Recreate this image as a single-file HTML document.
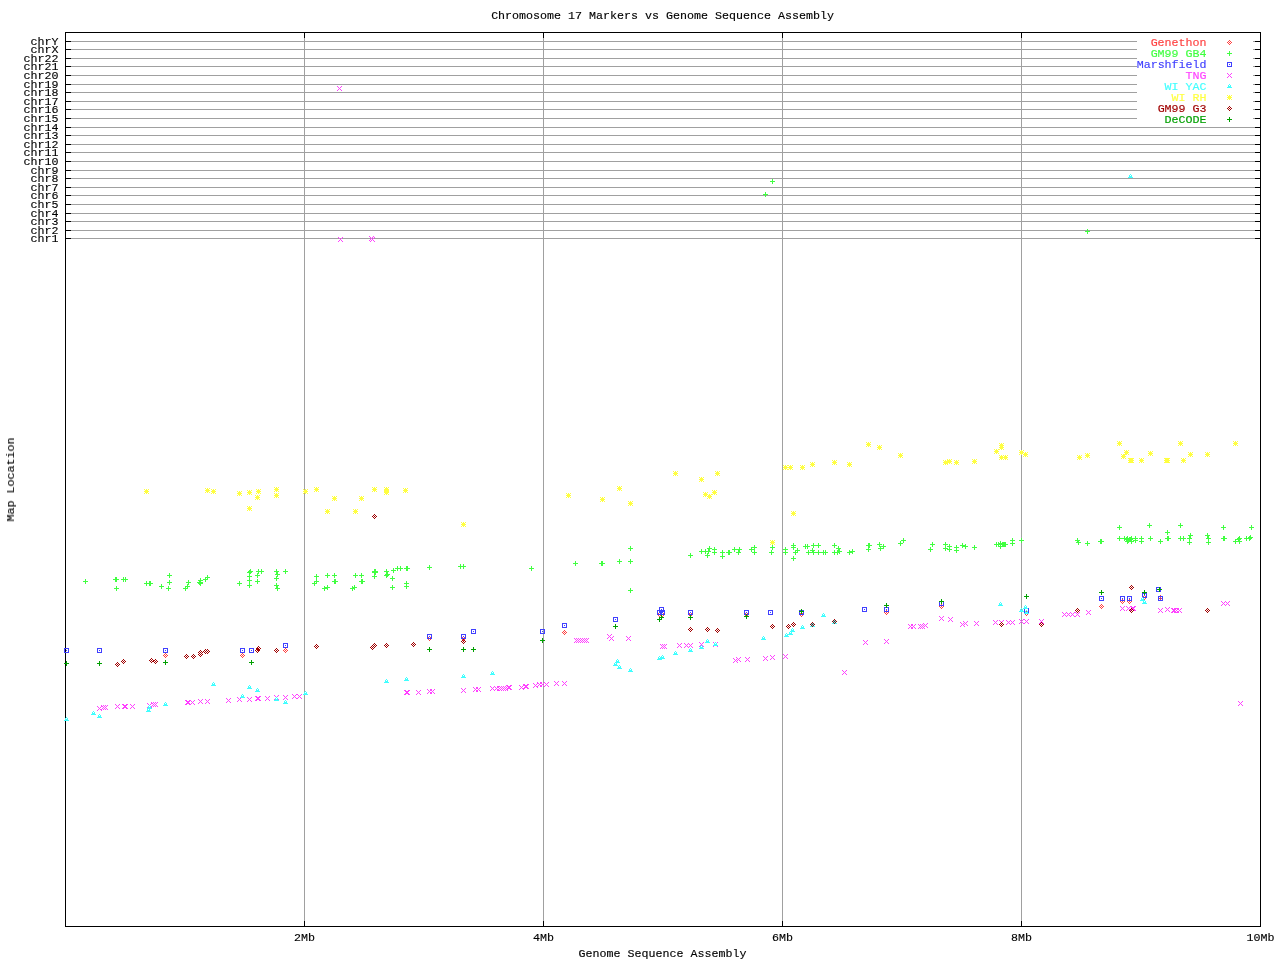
<!DOCTYPE html>
<html lang="en"><head><meta charset="utf-8"><title>Chromosome 17 Markers vs Genome Sequence Assembly</title>
<style>html,body{margin:0;padding:0;background:#fff;overflow:hidden}svg{display:block}text{font-family:"Liberation Mono","DejaVu Sans Mono",monospace;font-size:11.66px;fill:#000;stroke:#000;stroke-width:.15px;white-space:pre}.g{stroke:#a0a0a0;stroke-width:1;shape-rendering:crispEdges;fill:none}.k{stroke:#000;stroke-width:1;shape-rendering:crispEdges;fill:none}.p{shape-rendering:crispEdges}.t{opacity:.999}</style></head><body>
<svg width="1280" height="960" viewBox="0 0 1280 960">
<rect width="1280" height="960" fill="#fff"/>
<defs>
<path id="dia" d="M0 -2h1v1h-1zM-1 -1h1v1h-1zM1 -1h1v1h-1zM-2 0h1v1h-1zM0 0h1v1h-1zM2 0h1v1h-1zM-1 1h1v1h-1zM1 1h1v1h-1zM0 2h1v1h-1z"/>
<path id="plus" d="M0 -2h1v1h-1zM0 -1h1v1h-1zM-2 0h5v1h-5zM0 1h1v1h-1zM0 2h1v1h-1z"/>
<path id="box" d="M-2 -2h5v1h-5zM-2 -1h1v1h-1zM2 -1h1v1h-1zM-2 0h1v1h-1zM0 0h1v1h-1zM2 0h1v1h-1zM-2 1h1v1h-1zM2 1h1v1h-1zM-2 2h5v1h-5z"/>
<path id="x" d="M-2 -2h1v1h-1zM2 -2h1v1h-1zM-1 -1h1v1h-1zM1 -1h1v1h-1zM0 0h1v1h-1zM-1 1h1v1h-1zM1 1h1v1h-1zM-2 2h1v1h-1zM2 2h1v1h-1z"/>
<path id="tri" d="M0 -2h1v1h-1zM-1 -1h1v1h-1zM1 -1h1v1h-1zM-1 0h3v1h-3zM-2 1h5v1h-5z"/>
<path id="star" d="M-2 -2h1v1h-1zM0 -2h1v1h-1zM2 -2h1v1h-1zM-1 -1h3v1h-3zM-2 0h5v1h-5zM-1 1h3v1h-3zM-2 2h1v1h-1zM0 2h1v1h-1zM2 2h1v1h-1z"/>
</defs>
<path class="g" d="M66 41.5H1260M66 49.5H1260M66 58.5H1260M66 66.5H1260M66 75.5H1260M66 84.5H1260M66 92.5H1260M66 101.5H1260M66 109.5H1260M66 118.5H1260M66 127.5H1260M66 135.5H1260M66 144.5H1260M66 152.5H1260M66 161.5H1260M66 170.5H1260M66 178.5H1260M66 187.5H1260M66 195.5H1260M66 204.5H1260M66 213.5H1260M66 221.5H1260M66 230.5H1260M66 238.5H1260M304.5 33V926M543.5 33V926M782.5 33V926M1021.5 33V926"/>
<rect x="1137" y="36" width="116" height="89" fill="#fff"/>
<path class="k" d="M65.5 32.5H1260.5V926.5H65.5ZM65 41.5h6M1261 41.5h-6M65 49.5h6M1261 49.5h-6M65 58.5h6M1261 58.5h-6M65 66.5h6M1261 66.5h-6M65 75.5h6M1261 75.5h-6M65 84.5h6M1261 84.5h-6M65 92.5h6M1261 92.5h-6M65 101.5h6M1261 101.5h-6M65 109.5h6M1261 109.5h-6M65 118.5h6M1261 118.5h-6M65 127.5h6M1261 127.5h-6M65 135.5h6M1261 135.5h-6M65 144.5h6M1261 144.5h-6M65 152.5h6M1261 152.5h-6M65 161.5h6M1261 161.5h-6M65 170.5h6M1261 170.5h-6M65 178.5h6M1261 178.5h-6M65 187.5h6M1261 187.5h-6M65 195.5h6M1261 195.5h-6M65 204.5h6M1261 204.5h-6M65 213.5h6M1261 213.5h-6M65 221.5h6M1261 221.5h-6M65 230.5h6M1261 230.5h-6M65 238.5h6M1261 238.5h-6M304.5 32v6M304.5 927v-6M543.5 32v6M543.5 927v-6M782.5 32v6M782.5 927v-6M1021.5 32v6M1021.5 927v-6"/>
<g class="t">
<text x="58.4" y="45" text-anchor="end">chrY</text>
<text x="58.4" y="53" text-anchor="end">chrX</text>
<text x="58.4" y="62" text-anchor="end">chr22</text>
<text x="58.4" y="70" text-anchor="end">chr21</text>
<text x="58.4" y="79" text-anchor="end">chr20</text>
<text x="58.4" y="88" text-anchor="end">chr19</text>
<text x="58.4" y="96" text-anchor="end">chr18</text>
<text x="58.4" y="105" text-anchor="end">chr17</text>
<text x="58.4" y="113" text-anchor="end">chr16</text>
<text x="58.4" y="122" text-anchor="end">chr15</text>
<text x="58.4" y="131" text-anchor="end">chr14</text>
<text x="58.4" y="139" text-anchor="end">chr13</text>
<text x="58.4" y="148" text-anchor="end">chr12</text>
<text x="58.4" y="156" text-anchor="end">chr11</text>
<text x="58.4" y="165" text-anchor="end">chr10</text>
<text x="58.4" y="174" text-anchor="end">chr9</text>
<text x="58.4" y="182" text-anchor="end">chr8</text>
<text x="58.4" y="191" text-anchor="end">chr7</text>
<text x="58.4" y="199" text-anchor="end">chr6</text>
<text x="58.4" y="208" text-anchor="end">chr5</text>
<text x="58.4" y="217" text-anchor="end">chr4</text>
<text x="58.4" y="225" text-anchor="end">chr3</text>
<text x="58.4" y="234" text-anchor="end">chr2</text>
<text x="58.4" y="242" text-anchor="end">chr1</text>
<text x="304.5" y="941" text-anchor="middle">2Mb</text>
<text x="543.5" y="941" text-anchor="middle">4Mb</text>
<text x="782.5" y="941" text-anchor="middle">6Mb</text>
<text x="1021.5" y="941" text-anchor="middle">8Mb</text>
<text x="1260.5" y="941" text-anchor="middle">10Mb</text>
<text x="662.5" y="19" text-anchor="middle">Chromosome 17 Markers vs Genome Sequence Assembly</text>
<text x="662.5" y="957" text-anchor="middle">Genome Sequence Assembly</text>
<text transform="translate(14 479.5) rotate(-90)" text-anchor="middle">Map Location</text>
</g>
<text x="1206.6" y="46" text-anchor="end" style="fill:#ff4040;stroke:#ff4040">Genethon</text>
<use href="#dia" class="p" x="1229" y="42" fill="#ff4040"/>
<text x="1206.6" y="57" text-anchor="end" style="fill:#40ff40;stroke:#40ff40">GM99 GB4</text>
<use href="#plus" class="p" x="1229" y="53" fill="#40ff40"/>
<text x="1206.6" y="68" text-anchor="end" style="fill:#4040ff;stroke:#4040ff">Marshfield</text>
<use href="#box" class="p" x="1229" y="64" fill="#4040ff"/>
<text x="1206.6" y="79" text-anchor="end" style="fill:#ff40ff;stroke:#ff40ff">TNG</text>
<use href="#x" class="p" x="1229" y="75" fill="#ff40ff"/>
<text x="1206.6" y="90" text-anchor="end" style="fill:#40ffff;stroke:#40ffff">WI YAC</text>
<use href="#tri" class="p" x="1229" y="86" fill="#40ffff"/>
<text x="1206.6" y="101" text-anchor="end" style="fill:#ffff40;stroke:#ffff40">WI RH</text>
<use href="#star" class="p" x="1229" y="97" fill="#ffff40"/>
<text x="1206.6" y="112" text-anchor="end" style="fill:#a00000;stroke:#a00000">GM99 G3</text>
<use href="#dia" class="p" x="1229" y="108" fill="#a00000"/>
<text x="1206.6" y="123" text-anchor="end" style="fill:#00a000;stroke:#00a000">DeCODE</text>
<use href="#plus" class="p" x="1229" y="119" fill="#00a000"/>
<g class="p" fill="#ff4040">
<use href="#dia" x="165" y="655"/><use href="#dia" x="242" y="655"/><use href="#dia" x="285" y="650"/><use href="#dia" x="429" y="638"/><use href="#dia" x="463" y="638"/><use href="#dia" x="564" y="632"/><use href="#dia" x="659" y="614"/><use href="#dia" x="662" y="614"/><use href="#dia" x="690" y="614"/><use href="#dia" x="746" y="614"/><use href="#dia" x="801" y="614"/><use href="#dia" x="886" y="612"/><use href="#dia" x="941" y="606"/><use href="#dia" x="1026" y="613"/><use href="#dia" x="1101" y="606"/><use href="#dia" x="1122" y="601"/><use href="#dia" x="1129" y="601"/><use href="#dia" x="1144" y="597"/><use href="#dia" x="1160" y="597"/>
</g>
<g class="p" fill="#40ff40">
<use href="#plus" x="85" y="581"/><use href="#plus" x="115" y="579"/><use href="#plus" x="116" y="579"/><use href="#plus" x="123" y="579"/><use href="#plus" x="125" y="579"/><use href="#plus" x="116" y="588"/><use href="#plus" x="146" y="583"/><use href="#plus" x="149" y="583"/><use href="#plus" x="150" y="583"/><use href="#plus" x="161" y="586"/><use href="#plus" x="169" y="575"/><use href="#plus" x="169" y="582"/><use href="#plus" x="168" y="588"/><use href="#plus" x="188" y="582"/><use href="#plus" x="187" y="586"/><use href="#plus" x="185" y="588"/><use href="#plus" x="200" y="580"/><use href="#plus" x="199" y="582"/><use href="#plus" x="200" y="582"/><use href="#plus" x="200" y="583"/><use href="#plus" x="205" y="579"/><use href="#plus" x="207" y="577"/><use href="#plus" x="239" y="583"/><use href="#plus" x="250" y="571"/><use href="#plus" x="249" y="572"/><use href="#plus" x="249" y="576"/><use href="#plus" x="249" y="580"/><use href="#plus" x="249" y="585"/><use href="#plus" x="258" y="571"/><use href="#plus" x="257" y="575"/><use href="#plus" x="257" y="581"/><use href="#plus" x="261" y="571"/><use href="#plus" x="276" y="571"/><use href="#plus" x="285" y="571"/><use href="#plus" x="277" y="574"/><use href="#plus" x="276" y="578"/><use href="#plus" x="276" y="585"/><use href="#plus" x="277" y="588"/><use href="#plus" x="316" y="576"/><use href="#plus" x="316" y="581"/><use href="#plus" x="314" y="583"/><use href="#plus" x="327" y="575"/><use href="#plus" x="334" y="575"/><use href="#plus" x="334" y="581"/><use href="#plus" x="335" y="581"/><use href="#plus" x="324" y="588"/><use href="#plus" x="327" y="587"/><use href="#plus" x="355" y="575"/><use href="#plus" x="361" y="575"/><use href="#plus" x="361" y="581"/><use href="#plus" x="362" y="581"/><use href="#plus" x="352" y="588"/><use href="#plus" x="354" y="587"/><use href="#plus" x="374" y="571"/><use href="#plus" x="375" y="571"/><use href="#plus" x="374" y="572"/><use href="#plus" x="375" y="572"/><use href="#plus" x="374" y="576"/><use href="#plus" x="386" y="571"/><use href="#plus" x="387" y="574"/><use href="#plus" x="386" y="575"/><use href="#plus" x="393" y="570"/><use href="#plus" x="392" y="578"/><use href="#plus" x="392" y="587"/><use href="#plus" x="397" y="568"/><use href="#plus" x="400" y="568"/><use href="#plus" x="406" y="568"/><use href="#plus" x="407" y="568"/><use href="#plus" x="406" y="583"/><use href="#plus" x="406" y="586"/><use href="#plus" x="429" y="567"/><use href="#plus" x="460" y="566"/><use href="#plus" x="463" y="566"/><use href="#plus" x="531" y="568"/><use href="#plus" x="575" y="563"/><use href="#plus" x="601" y="563"/><use href="#plus" x="602" y="563"/><use href="#plus" x="619" y="561"/><use href="#plus" x="630" y="561"/><use href="#plus" x="630" y="548"/><use href="#plus" x="630" y="590"/><use href="#plus" x="690" y="555"/><use href="#plus" x="701" y="551"/><use href="#plus" x="705" y="551"/><use href="#plus" x="707" y="555"/><use href="#plus" x="709" y="548"/><use href="#plus" x="708" y="551"/><use href="#plus" x="714" y="549"/><use href="#plus" x="714" y="552"/><use href="#plus" x="722" y="552"/><use href="#plus" x="722" y="556"/><use href="#plus" x="728" y="552"/><use href="#plus" x="729" y="552"/><use href="#plus" x="734" y="549"/><use href="#plus" x="739" y="549"/><use href="#plus" x="738" y="552"/><use href="#plus" x="751" y="549"/><use href="#plus" x="754" y="547"/><use href="#plus" x="754" y="552"/><use href="#plus" x="772" y="547"/><use href="#plus" x="771" y="552"/><use href="#plus" x="785" y="549"/><use href="#plus" x="785" y="552"/><use href="#plus" x="793" y="545"/><use href="#plus" x="793" y="547"/><use href="#plus" x="795" y="552"/><use href="#plus" x="797" y="550"/><use href="#plus" x="793" y="558"/><use href="#plus" x="805" y="546"/><use href="#plus" x="807" y="546"/><use href="#plus" x="808" y="552"/><use href="#plus" x="813" y="545"/><use href="#plus" x="818" y="545"/><use href="#plus" x="812" y="550"/><use href="#plus" x="813" y="552"/><use href="#plus" x="818" y="552"/><use href="#plus" x="823" y="552"/><use href="#plus" x="825" y="552"/><use href="#plus" x="834" y="545"/><use href="#plus" x="834" y="552"/><use href="#plus" x="837" y="552"/><use href="#plus" x="838" y="548"/><use href="#plus" x="839" y="551"/><use href="#plus" x="849" y="552"/><use href="#plus" x="852" y="551"/><use href="#plus" x="868" y="545"/><use href="#plus" x="869" y="545"/><use href="#plus" x="868" y="549"/><use href="#plus" x="879" y="544"/><use href="#plus" x="880" y="548"/><use href="#plus" x="883" y="546"/><use href="#plus" x="900" y="543"/><use href="#plus" x="903" y="540"/><use href="#plus" x="932" y="544"/><use href="#plus" x="930" y="549"/><use href="#plus" x="945" y="544"/><use href="#plus" x="945" y="548"/><use href="#plus" x="949" y="546"/><use href="#plus" x="949" y="549"/><use href="#plus" x="956" y="547"/><use href="#plus" x="956" y="550"/><use href="#plus" x="962" y="545"/><use href="#plus" x="965" y="546"/><use href="#plus" x="974" y="547"/><use href="#plus" x="996" y="544"/><use href="#plus" x="998" y="544"/><use href="#plus" x="1000" y="543"/><use href="#plus" x="1002" y="544"/><use href="#plus" x="1004" y="544"/><use href="#plus" x="1000" y="546"/><use href="#plus" x="1003" y="544"/><use href="#plus" x="1005" y="544"/><use href="#plus" x="1012" y="540"/><use href="#plus" x="1012" y="543"/><use href="#plus" x="1021" y="540"/><use href="#plus" x="1077" y="540"/><use href="#plus" x="1078" y="542"/><use href="#plus" x="1087" y="543"/><use href="#plus" x="1100" y="541"/><use href="#plus" x="1101" y="541"/><use href="#plus" x="1119" y="527"/><use href="#plus" x="1119" y="538"/><use href="#plus" x="1124" y="538"/><use href="#plus" x="1127" y="538"/><use href="#plus" x="1127" y="541"/><use href="#plus" x="1126" y="539"/><use href="#plus" x="1128" y="540"/><use href="#plus" x="1130" y="539"/><use href="#plus" x="1129" y="539"/><use href="#plus" x="1131" y="538"/><use href="#plus" x="1131" y="541"/><use href="#plus" x="1135" y="538"/><use href="#plus" x="1135" y="540"/><use href="#plus" x="1141" y="538"/><use href="#plus" x="1141" y="541"/><use href="#plus" x="1149" y="525"/><use href="#plus" x="1150" y="538"/><use href="#plus" x="1160" y="541"/><use href="#plus" x="1167" y="532"/><use href="#plus" x="1167" y="538"/><use href="#plus" x="1168" y="538"/><use href="#plus" x="1180" y="525"/><use href="#plus" x="1180" y="538"/><use href="#plus" x="1183" y="538"/><use href="#plus" x="1190" y="535"/><use href="#plus" x="1189" y="538"/><use href="#plus" x="1189" y="542"/><use href="#plus" x="1207" y="535"/><use href="#plus" x="1208" y="538"/><use href="#plus" x="1208" y="542"/><use href="#plus" x="1223" y="527"/><use href="#plus" x="1223" y="538"/><use href="#plus" x="1224" y="538"/><use href="#plus" x="1235" y="541"/><use href="#plus" x="1239" y="538"/><use href="#plus" x="1239" y="541"/><use href="#plus" x="1238" y="539"/><use href="#plus" x="1246" y="538"/><use href="#plus" x="1249" y="538"/><use href="#plus" x="1250" y="537"/><use href="#plus" x="1251" y="527"/><use href="#plus" x="772" y="181"/><use href="#plus" x="765" y="194"/><use href="#plus" x="1087" y="231"/>
</g>
<g class="p" fill="#4040ff">
<use href="#box" x="66" y="650"/><use href="#box" x="99" y="650"/><use href="#box" x="165" y="650"/><use href="#box" x="242" y="650"/><use href="#box" x="251" y="650"/><use href="#box" x="285" y="645"/><use href="#box" x="429" y="636"/><use href="#box" x="463" y="636"/><use href="#box" x="473" y="631"/><use href="#box" x="542" y="631"/><use href="#box" x="564" y="625"/><use href="#box" x="615" y="619"/><use href="#box" x="661" y="609"/><use href="#box" x="659" y="612"/><use href="#box" x="662" y="612"/><use href="#box" x="690" y="612"/><use href="#box" x="746" y="612"/><use href="#box" x="770" y="612"/><use href="#box" x="801" y="612"/><use href="#box" x="864" y="609"/><use href="#box" x="886" y="609"/><use href="#box" x="941" y="603"/><use href="#box" x="1026" y="610"/><use href="#box" x="1101" y="598"/><use href="#box" x="1122" y="598"/><use href="#box" x="1129" y="598"/><use href="#box" x="1144" y="595"/><use href="#box" x="1158" y="589"/><use href="#box" x="1160" y="598"/>
</g>
<g class="p" fill="#ff40ff">
<use href="#x" x="99" y="708"/><use href="#x" x="103" y="707"/><use href="#x" x="105" y="707"/><use href="#x" x="117" y="706"/><use href="#x" x="124" y="706"/><use href="#x" x="125" y="706"/><use href="#x" x="132" y="706"/><use href="#x" x="149" y="705"/><use href="#x" x="153" y="704"/><use href="#x" x="155" y="704"/><use href="#x" x="187" y="702"/><use href="#x" x="188" y="702"/><use href="#x" x="192" y="702"/><use href="#x" x="200" y="701"/><use href="#x" x="207" y="701"/><use href="#x" x="228" y="700"/><use href="#x" x="239" y="699"/><use href="#x" x="249" y="699"/><use href="#x" x="257" y="698"/><use href="#x" x="258" y="698"/><use href="#x" x="267" y="698"/><use href="#x" x="276" y="697"/><use href="#x" x="285" y="697"/><use href="#x" x="294" y="696"/><use href="#x" x="299" y="696"/><use href="#x" x="406" y="692"/><use href="#x" x="407" y="692"/><use href="#x" x="418" y="692"/><use href="#x" x="429" y="691"/><use href="#x" x="432" y="691"/><use href="#x" x="463" y="690"/><use href="#x" x="475" y="689"/><use href="#x" x="478" y="689"/><use href="#x" x="492" y="688"/><use href="#x" x="496" y="688"/><use href="#x" x="499" y="688"/><use href="#x" x="501" y="688"/><use href="#x" x="503" y="688"/><use href="#x" x="505" y="688"/><use href="#x" x="508" y="687"/><use href="#x" x="509" y="687"/><use href="#x" x="521" y="687"/><use href="#x" x="525" y="686"/><use href="#x" x="526" y="686"/><use href="#x" x="535" y="685"/><use href="#x" x="539" y="684"/><use href="#x" x="542" y="684"/><use href="#x" x="546" y="684"/><use href="#x" x="556" y="683"/><use href="#x" x="564" y="683"/><use href="#x" x="576" y="640"/><use href="#x" x="578" y="640"/><use href="#x" x="580" y="640"/><use href="#x" x="582" y="640"/><use href="#x" x="584" y="640"/><use href="#x" x="586" y="640"/><use href="#x" x="609" y="636"/><use href="#x" x="611" y="638"/><use href="#x" x="628" y="638"/><use href="#x" x="662" y="646"/><use href="#x" x="664" y="646"/><use href="#x" x="679" y="645"/><use href="#x" x="686" y="645"/><use href="#x" x="690" y="645"/><use href="#x" x="701" y="644"/><use href="#x" x="715" y="644"/><use href="#x" x="735" y="660"/><use href="#x" x="738" y="659"/><use href="#x" x="747" y="659"/><use href="#x" x="765" y="658"/><use href="#x" x="772" y="657"/><use href="#x" x="785" y="656"/><use href="#x" x="844" y="672"/><use href="#x" x="865" y="642"/><use href="#x" x="886" y="641"/><use href="#x" x="910" y="626"/><use href="#x" x="913" y="626"/><use href="#x" x="920" y="626"/><use href="#x" x="922" y="626"/><use href="#x" x="925" y="625"/><use href="#x" x="941" y="618"/><use href="#x" x="950" y="619"/><use href="#x" x="962" y="624"/><use href="#x" x="965" y="623"/><use href="#x" x="976" y="623"/><use href="#x" x="995" y="622"/><use href="#x" x="1001" y="622"/><use href="#x" x="1008" y="622"/><use href="#x" x="1012" y="622"/><use href="#x" x="1021" y="621"/><use href="#x" x="1026" y="621"/><use href="#x" x="1041" y="621"/><use href="#x" x="1064" y="614"/><use href="#x" x="1068" y="614"/><use href="#x" x="1072" y="614"/><use href="#x" x="1077" y="614"/><use href="#x" x="1088" y="612"/><use href="#x" x="1122" y="608"/><use href="#x" x="1128" y="608"/><use href="#x" x="1132" y="608"/><use href="#x" x="1133" y="608"/><use href="#x" x="1160" y="610"/><use href="#x" x="1167" y="609"/><use href="#x" x="1173" y="610"/><use href="#x" x="1174" y="610"/><use href="#x" x="1176" y="610"/><use href="#x" x="1179" y="610"/><use href="#x" x="1223" y="603"/><use href="#x" x="1227" y="603"/><use href="#x" x="1240" y="703"/><use href="#x" x="339" y="88"/><use href="#x" x="340" y="239"/><use href="#x" x="371" y="238"/><use href="#x" x="372" y="239"/>
</g>
<g class="p" fill="#40ffff">
<use href="#tri" x="66" y="719"/><use href="#tri" x="93" y="713"/><use href="#tri" x="99" y="716"/><use href="#tri" x="148" y="710"/><use href="#tri" x="149" y="707"/><use href="#tri" x="165" y="704"/><use href="#tri" x="213" y="684"/><use href="#tri" x="249" y="687"/><use href="#tri" x="257" y="690"/><use href="#tri" x="242" y="696"/><use href="#tri" x="276" y="699"/><use href="#tri" x="285" y="702"/><use href="#tri" x="305" y="693"/><use href="#tri" x="386" y="681"/><use href="#tri" x="406" y="679"/><use href="#tri" x="463" y="676"/><use href="#tri" x="492" y="673"/><use href="#tri" x="617" y="661"/><use href="#tri" x="615" y="664"/><use href="#tri" x="619" y="667"/><use href="#tri" x="630" y="670"/><use href="#tri" x="659" y="658"/><use href="#tri" x="662" y="657"/><use href="#tri" x="675" y="653"/><use href="#tri" x="690" y="650"/><use href="#tri" x="701" y="647"/><use href="#tri" x="707" y="641"/><use href="#tri" x="715" y="644"/><use href="#tri" x="763" y="638"/><use href="#tri" x="786" y="635"/><use href="#tri" x="790" y="633"/><use href="#tri" x="792" y="630"/><use href="#tri" x="802" y="627"/><use href="#tri" x="823" y="615"/><use href="#tri" x="812" y="625"/><use href="#tri" x="834" y="622"/><use href="#tri" x="1000" y="604"/><use href="#tri" x="1021" y="610"/><use href="#tri" x="1025" y="607"/><use href="#tri" x="1026" y="612"/><use href="#tri" x="1142" y="599"/><use href="#tri" x="1144" y="602"/><use href="#tri" x="1130" y="176"/>
</g>
<g class="p" fill="#ffff40">
<use href="#star" x="146" y="491"/><use href="#star" x="207" y="490"/><use href="#star" x="213" y="491"/><use href="#star" x="239" y="493"/><use href="#star" x="249" y="492"/><use href="#star" x="258" y="491"/><use href="#star" x="257" y="497"/><use href="#star" x="249" y="508"/><use href="#star" x="276" y="489"/><use href="#star" x="276" y="495"/><use href="#star" x="305" y="491"/><use href="#star" x="316" y="489"/><use href="#star" x="334" y="498"/><use href="#star" x="327" y="511"/><use href="#star" x="355" y="511"/><use href="#star" x="361" y="498"/><use href="#star" x="374" y="489"/><use href="#star" x="386" y="489"/><use href="#star" x="386" y="492"/><use href="#star" x="405" y="490"/><use href="#star" x="463" y="524"/><use href="#star" x="568" y="495"/><use href="#star" x="602" y="499"/><use href="#star" x="619" y="488"/><use href="#star" x="630" y="503"/><use href="#star" x="675" y="473"/><use href="#star" x="701" y="479"/><use href="#star" x="717" y="473"/><use href="#star" x="705" y="494"/><use href="#star" x="709" y="496"/><use href="#star" x="714" y="492"/><use href="#star" x="785" y="467"/><use href="#star" x="790" y="467"/><use href="#star" x="802" y="467"/><use href="#star" x="812" y="464"/><use href="#star" x="834" y="462"/><use href="#star" x="849" y="464"/><use href="#star" x="793" y="513"/><use href="#star" x="772" y="542"/><use href="#star" x="868" y="444"/><use href="#star" x="879" y="447"/><use href="#star" x="900" y="455"/><use href="#star" x="945" y="462"/><use href="#star" x="949" y="461"/><use href="#star" x="956" y="462"/><use href="#star" x="974" y="461"/><use href="#star" x="996" y="451"/><use href="#star" x="1001" y="445"/><use href="#star" x="1001" y="447"/><use href="#star" x="1001" y="457"/><use href="#star" x="1005" y="457"/><use href="#star" x="1021" y="452"/><use href="#star" x="1025" y="454"/><use href="#star" x="1079" y="457"/><use href="#star" x="1087" y="455"/><use href="#star" x="1119" y="443"/><use href="#star" x="1126" y="452"/><use href="#star" x="1123" y="456"/><use href="#star" x="1130" y="460"/><use href="#star" x="1131" y="460"/><use href="#star" x="1141" y="460"/><use href="#star" x="1150" y="453"/><use href="#star" x="1166" y="460"/><use href="#star" x="1167" y="460"/><use href="#star" x="1180" y="443"/><use href="#star" x="1183" y="460"/><use href="#star" x="1190" y="454"/><use href="#star" x="1207" y="454"/><use href="#star" x="1235" y="443"/>
</g>
<g class="p" fill="#a00000">
<use href="#dia" x="117" y="664"/><use href="#dia" x="123" y="661"/><use href="#dia" x="151" y="660"/><use href="#dia" x="155" y="661"/><use href="#dia" x="186" y="656"/><use href="#dia" x="193" y="656"/><use href="#dia" x="200" y="652"/><use href="#dia" x="200" y="654"/><use href="#dia" x="205" y="651"/><use href="#dia" x="207" y="651"/><use href="#dia" x="257" y="650"/><use href="#dia" x="258" y="648"/><use href="#dia" x="374" y="516"/><use href="#dia" x="276" y="650"/><use href="#dia" x="316" y="646"/><use href="#dia" x="372" y="647"/><use href="#dia" x="374" y="645"/><use href="#dia" x="386" y="645"/><use href="#dia" x="413" y="644"/><use href="#dia" x="463" y="641"/><use href="#dia" x="690" y="629"/><use href="#dia" x="707" y="629"/><use href="#dia" x="717" y="630"/><use href="#dia" x="772" y="626"/><use href="#dia" x="788" y="626"/><use href="#dia" x="793" y="624"/><use href="#dia" x="812" y="624"/><use href="#dia" x="834" y="621"/><use href="#dia" x="1001" y="624"/><use href="#dia" x="1041" y="624"/><use href="#dia" x="1077" y="610"/><use href="#dia" x="1131" y="587"/><use href="#dia" x="1131" y="610"/><use href="#dia" x="1207" y="610"/>
</g>
<g class="p" fill="#00a000">
<use href="#plus" x="66" y="663"/><use href="#plus" x="99" y="663"/><use href="#plus" x="165" y="662"/><use href="#plus" x="251" y="662"/><use href="#plus" x="429" y="649"/><use href="#plus" x="463" y="649"/><use href="#plus" x="473" y="649"/><use href="#plus" x="542" y="640"/><use href="#plus" x="615" y="626"/><use href="#plus" x="659" y="619"/><use href="#plus" x="661" y="617"/><use href="#plus" x="690" y="617"/><use href="#plus" x="746" y="616"/><use href="#plus" x="801" y="611"/><use href="#plus" x="886" y="605"/><use href="#plus" x="941" y="601"/><use href="#plus" x="1026" y="596"/><use href="#plus" x="1101" y="592"/><use href="#plus" x="1144" y="592"/><use href="#plus" x="1159" y="589"/>
</g>
</svg></body></html>
